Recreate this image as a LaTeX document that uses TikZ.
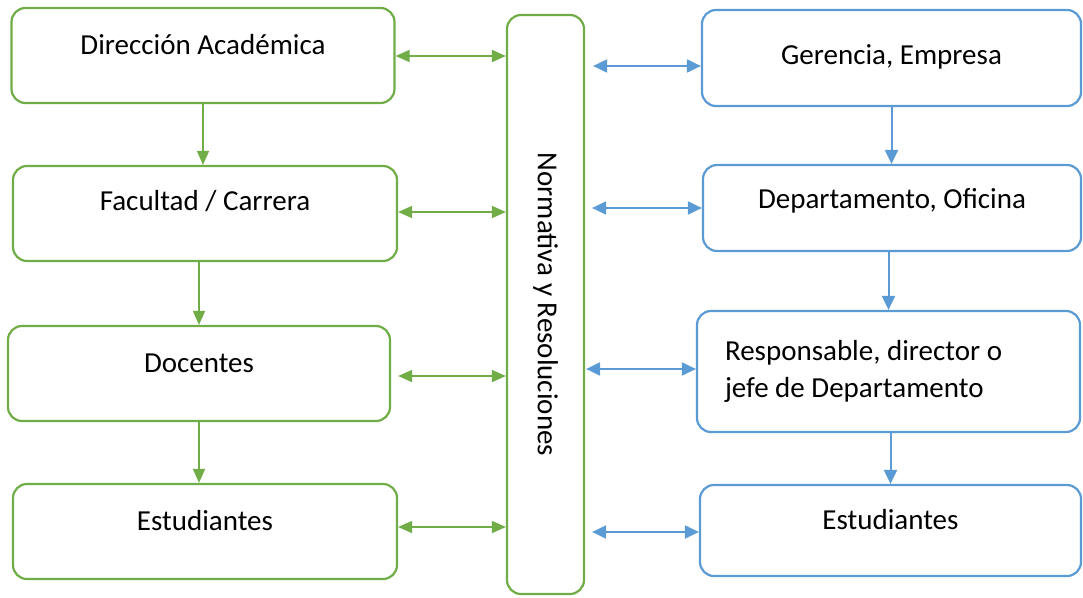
\documentclass[tikz,border=0pt]{standalone}
\usepackage{fontspec}
\setmainfont{Carlito}
\usetikzlibrary{arrows.meta}
\definecolor{grn}{HTML}{70AD47}
\definecolor{blu}{HTML}{5B9BD5}
\tikzset{
  every picture/.style={x=1pt,y=-1pt},
  box/.style={line width=2.2pt, rounded corners=14pt, inner sep=0pt,
    font=\fontsize{29}{37}\selectfont},
  gbox/.style={box, draw=grn},
  bbox/.style={box, draw=blu},
  garr/.style={grn, line width=1.6pt, -{Triangle[length=14pt,width=12pt]}},
  barr/.style={blu, line width=2pt, -{Triangle[length=14pt,width=13pt]}},
  gboth/.style={garr, {Triangle[length=14pt,width=12pt]}-{Triangle[length=14pt,width=12pt]}},
  bboth/.style={barr, {Triangle[length=14pt,width=13pt]}-{Triangle[length=14pt,width=13pt]}},
}

\begin{document}
\begin{tikzpicture}
\useasboundingbox (0,0) rectangle (1083,597);
% left column
\node[gbox, minimum width=383pt, text height=46pt, text depth=49pt] (dir) at (203,55.5) {Dirección Académica};
\node[gbox, minimum width=384pt, text height=44.5pt, text depth=50.5pt] (fac) at (205,213.5) {Facultad / Carrera};
\node[gbox, minimum width=382pt, text height=46.5pt, text depth=48.5pt] (doc) at (199,373.5) {Docentes};
\node[gbox, minimum width=384pt, text height=46.5pt, text depth=48.5pt] (estA) at (205,531.5) {Estudiantes};
% middle
\node[gbox, rotate=-90, minimum width=579pt, minimum height=77pt] (norm) at (545.5,304.5) {Normativa y Resoluciones};
% right column
\node[bbox, minimum width=379pt, text height=54.5pt, text depth=41.5pt] (ger) at (891.5,58) {Gerencia, Empresa};
\node[bbox, minimum width=378pt, text height=43.5pt, text depth=42.5pt] (dep) at (892,208) {Departamento, Oficina};
\node[bbox, minimum width=383pt, minimum height=121pt, text width=327pt, align=flush left] (resp) at (888.5,371.5) {Responsable, director o\\jefe de Departamento};
\node[bbox, minimum width=381pt, text height=44.5pt, text depth=46.5pt] (estB) at (890.5,530.5) {Estudiantes};

% vertical arrows
\draw[garr] (dir.south) -- (dir.south |- fac.north);
\draw[garr] (fac.south -| doc.north) -- (doc.north);
\draw[garr] (doc.south) -- (doc.south |- estA.north);
\draw[barr] (ger.south) -- (ger.south |- dep.north);
\draw[barr] (dep.south -| resp.north) -- (resp.north);
\draw[barr] (resp.south -| estB.north) -- (estB.north);

% to and from the middle
\draw[gboth] (dir.east |- 0,56) -- (norm.south |- 0,56);
\draw[gboth] (fac.east |- 0,212) -- (norm.south |- 0,212);
\draw[gboth] ([xshift=7pt]doc.east |- 0,376) -- (norm.south |- 0,376);
\draw[gboth] (estA.east |- 0,527) -- (norm.south |- 0,527);
\draw[bboth] ([xshift=8pt]norm.north |- 0,66) -- (ger.west |- 0,66);
\draw[bboth] ([xshift=7pt]norm.north |- 0,208) -- (dep.west |- 0,208);
\draw[bboth] ([xshift=1pt]norm.north |- 0,369) -- (resp.west |- 0,369);
\draw[bboth] ([xshift=7pt]norm.north |- 0,532) -- (estB.west |- 0,532);
\end{tikzpicture}
\end{document}
